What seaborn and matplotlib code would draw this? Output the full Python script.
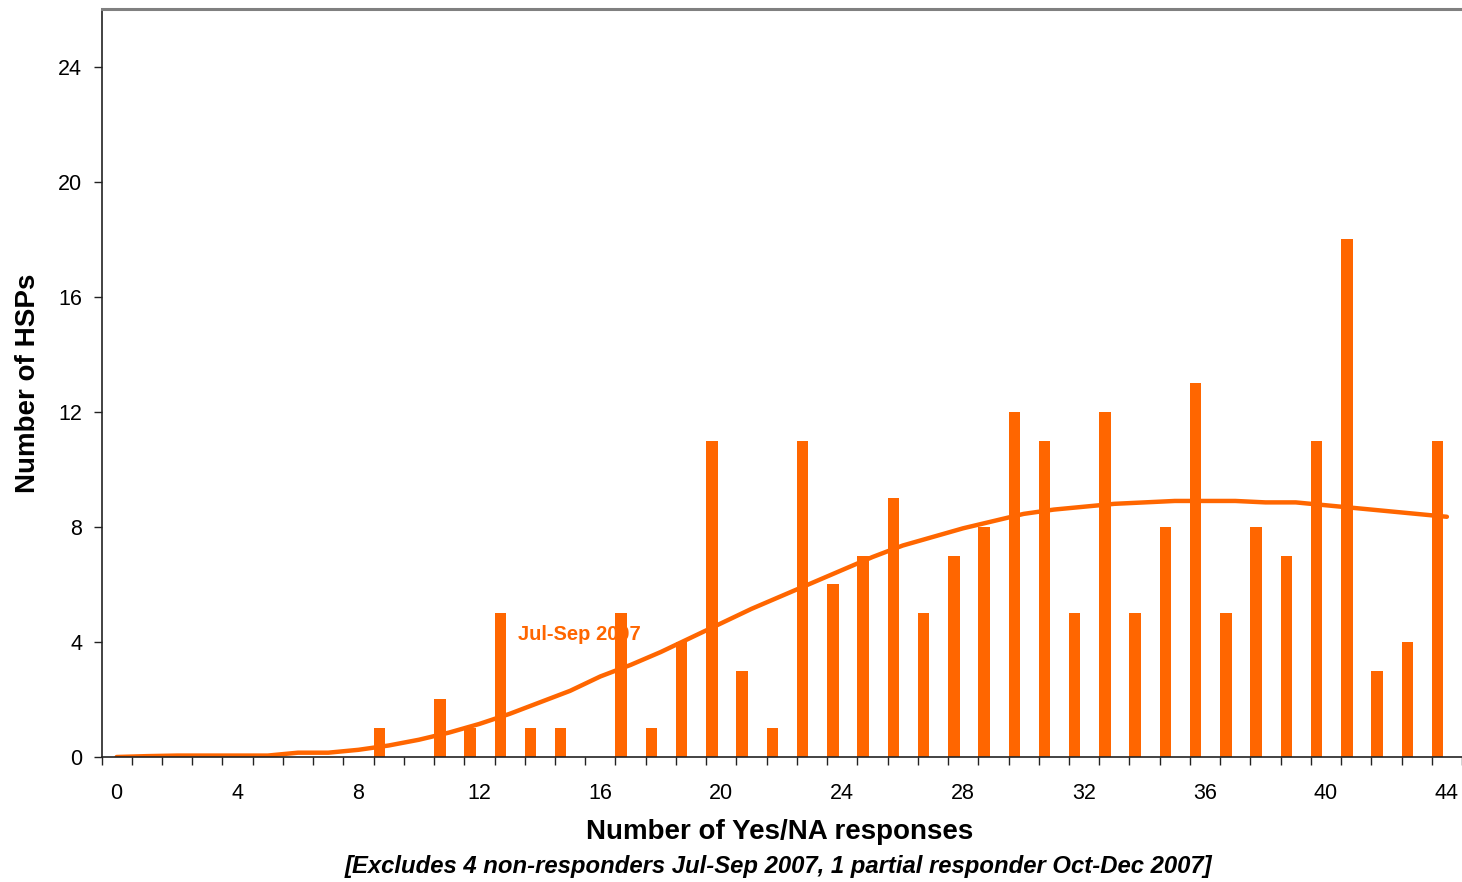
import numpy as np
import pandas as pd
import matplotlib
matplotlib.use("Agg")
import matplotlib.pyplot as plt
import seaborn as sns

# bars: number of HSPs per count of Yes/NA responses (Jul-Sep 2007)
responses = list(range(9, 45))
hsp_counts = [1, 0, 2, 1, 5, 1, 1, 0, 5, 1, 4, 11, 3, 1, 11, 6, 7, 9, 5, 7,
              8, 12, 11, 5, 12, 5, 8, 13, 5, 8, 7, 11, 18, 3, 4, 11]

# smooth trend line, one value per response count 0..44
trend_x = list(range(0, 45))
trend_y = [0.0, 0.03, 0.05, 0.05, 0.05, 0.05, 0.15, 0.15, 0.25, 0.4,
           0.6, 0.85, 1.15, 1.5, 1.9, 2.3, 2.8, 3.2, 3.65, 4.15,
           4.65, 5.15, 5.6, 6.05, 6.5, 6.95, 7.35, 7.65, 7.95, 8.2,
           8.45, 8.6, 8.7, 8.8, 8.85, 8.9, 8.9, 8.9, 8.85, 8.85,
           8.75, 8.65, 8.55, 8.45, 8.35]

x_ticks = list(range(0, 45, 4))
y_ticks = list(range(0, 25, 4))

orange = "#FF6600"
bar_width = 0.38
bar_offset = 0.31  # bars sit in the left part of each category slot

sns.set_style("white")
plt.rcParams["font.family"] = ["Liberation Sans", "DejaVu Sans"]
plt.rcParams["text.color"] = "black"
plt.rcParams["xtick.color"] = "black"
plt.rcParams["ytick.color"] = "black"

bars = pd.DataFrame({"responses": responses, "hsps": hsp_counts})
bars["pos"] = bars["responses"] - bar_offset
trend = pd.DataFrame({"responses": trend_x, "hsps": trend_y})

fig = plt.figure(figsize=(14.62, 8.82), dpi=100)
W, H = 1462, 882
ax = fig.add_axes([101.5 / W, 1 - 757 / H, (1462 - 101.5) / W, (757 - 9) / H])

sns.barplot(data=bars, x="pos", y="hsps", native_scale=True, width=bar_width,
            color=orange, saturation=1, edgecolor="none", linewidth=0, ax=ax)
sns.lineplot(data=trend, x="responses", y="hsps", color=orange, linewidth=3.2,
             ax=ax)

ax.set_xlim(-0.5, 44.5)
ax.set_ylim(0, 26)
ax.set_xlabel("")
ax.set_ylabel("")

ax.set_xticks(x_ticks)
ax.set_xticklabels([str(t) for t in x_ticks], fontsize=15.5)
ax.set_xticks(np.arange(-0.5, 45, 1), minor=True)
ax.tick_params(axis="x", which="major", length=0, pad=19)
ax.tick_params(axis="x", which="minor", length=6, width=1, color="#222222",
               direction="out", bottom=True)
ax.set_yticks(y_ticks)
ax.set_yticklabels([str(t) for t in y_ticks], fontsize=15.5)
ax.tick_params(axis="y", length=6, width=1, color="#222222", direction="out",
               left=True, pad=8)

for side in ["left", "bottom"]:
    ax.spines[side].set_color("#222222")
    ax.spines[side].set_linewidth(1.2)
ax.spines["top"].set_color("#808080")
ax.spines["top"].set_linewidth(2.2)
ax.spines["right"].set_visible(False)

ax.text(15.3, 4.27, "Jul-Sep 2007", color=orange, fontsize=14.5,
        fontweight="bold", ha="center", va="center")

fig.text(780 / W, 1 - 832 / H, "Number of Yes/NA responses", fontsize=20,
         fontweight="bold", ha="center", va="center")
fig.text(778 / W, 1 - 867 / H,
         "[Excludes 4 non-responders Jul-Sep 2007, 1 partial responder Oct-Dec 2007]",
         fontsize=17.2, fontweight="bold", fontstyle="italic", ha="center", va="center")
fig.text(28 / W, 1 - 383 / H, "Number of HSPs", fontsize=20, fontweight="bold",
         rotation=90, ha="center", va="center")

fig.savefig("out.png", dpi=100)
plt.close(fig)
